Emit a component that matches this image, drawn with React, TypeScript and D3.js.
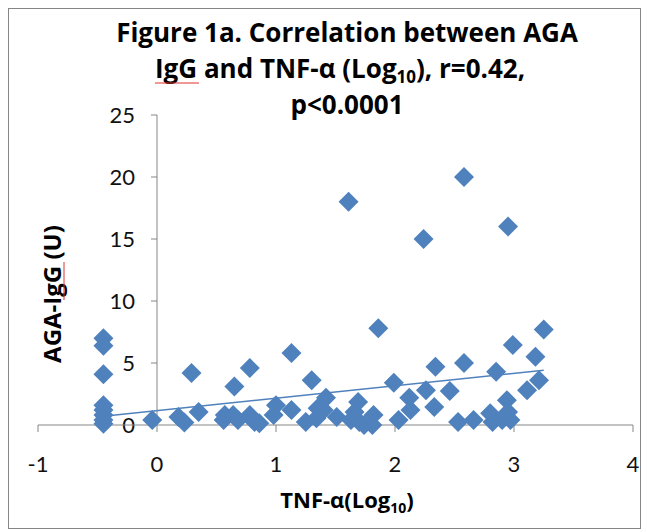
import React from 'react';
import * as d3 from 'd3';

// TNF-alpha (log10) and AGA-IgG (U)
const tnfLog = [
  -0.45, -0.45, -0.45, -0.45, -0.45, -0.45, -0.45, -0.45,
  -0.04, 0.18, 0.23, 0.35, 0.29, 0.65, 0.78, 1.13, 1.3, 0.57, 0.56, 0.64,
  0.68, 0.78, 0.82, 0.86, 0.98, 1.0, 1.13, 1.25, 1.34, 1.35, 1.42, 1.4,
  1.51, 1.69, 1.66, 1.63, 1.7, 1.74, 1.82, 1.81, 1.86, 1.61, 1.99, 2.03,
  2.12, 2.13, 2.26, 2.33, 2.34, 2.24, 2.46, 2.58, 2.58, 2.53, 2.66, 2.85,
  2.8, 2.82, 2.9, 2.94, 2.95, 2.97, 2.95, 2.99, 3.11, 3.18, 3.21, 3.25,
];
const agaIgg = [
  7.0, 6.4, 4.1, 1.6, 1.2, 0.8, 0.4, 0.1,
  0.4, 0.65, 0.2, 1.05, 4.2, 3.1, 4.6, 5.8, 3.6, 0.8, 0.4, 0.8,
  0.4, 0.8, 0.25, 0.15, 0.8, 1.6, 1.2, 0.25, 0.55, 1.35, 2.2, 1.2,
  0.65, 1.85, 1.05, 0.4, 0.25, 0.0, 0.8, 0.0, 7.8, 18.0, 3.4, 0.4,
  2.2, 1.2, 2.8, 1.45, 4.7, 15.0, 2.75, 5.0, 20.0, 0.25, 0.4, 4.3,
  0.95, 0.25, 0.4, 2.0, 1.05, 0.4, 16.0, 6.45, 2.8, 5.5, 3.6, 7.7,
];
const xTicks = [-1, 0, 1, 2, 3, 4];
const yTicks = [0, 5, 10, 15, 20, 25];
// linear trendline y = a + b*x
const trendIntercept = 1.16;
const trendSlope = 1.0;

const W = 647;
const H = 532;
const TITLE_FONT = '"Open Sans", Lato, sans-serif';
const TICK_FONT = 'Lato, "Open Sans", sans-serif';
const BLUE = '#4F81BD';
const AXIS = '#868686';

export default function App() {
  const x = d3.scaleLinear().domain([-1, 4]).range([38, 633]);
  const y = d3.scaleLinear().domain([0, 25]).range([425, 115]);

  const points = tnfLog.map((v, i) => ({ x: v, y: agaIgg[i] }));
  const diamond = d3.symbol(d3.symbolSquare, 200)() as string;

  const xMin = d3.min(tnfLog) as number;
  const xMax = d3.max(tnfLog) as number;
  const trend = d3.line<number>()
    .x(d => x(d))
    .y(d => y(trendIntercept + trendSlope * d));

  const x0 = x(0);

  return (
    <svg width={W} height={H} style={{ position: 'fixed', left: 0, top: 0, background: '#fff' }}>
      <rect x={8.5} y={8.5} width={632} height={520} fill="#fff" stroke={AXIS} strokeWidth={1} />

      {/* title */}
      <g fontFamily={TITLE_FONT} fontWeight={700} fontSize={26} fill="#000">
        <text x={347} y={42} textAnchor="middle">Figure 1a. Correlation between AGA</text>
        <text x={155} y={78}>
          IgG and TNF-α (Log<tspan fontSize={17} dy={5}>10</tspan><tspan dy={-5}>), r=0.42,</tspan>
        </text>
        <text x={347} y={114} textAnchor="middle">p&lt;0.0001</text>
      </g>
      <path d="M155,83 L199,83" stroke="#e03030" strokeWidth={1} />

      {/* y axis */}
      <line x1={x0} x2={x0} y1={y(0)} y2={y(25)} stroke={AXIS} strokeWidth={1} />
      {yTicks.map(t => (
        <g key={t}>
          <line x1={x0 - 6} x2={x0} y1={y(t)} y2={y(t)} stroke={AXIS} />
          <text x={x0 - 22} y={y(t) + 8} textAnchor="end" fontFamily={TICK_FONT} fontSize={22} fill="#111">{t}</text>
        </g>
      ))}

      {/* x axis */}
      <line x1={x(-1)} x2={x(4)} y1={y(0)} y2={y(0)} stroke={AXIS} strokeWidth={1} />
      {xTicks.map(t => (
        <g key={t}>
          <line x1={x(t)} x2={x(t)} y1={y(0)} y2={y(0) + 7} stroke={AXIS} />
          <text x={x(t)} y={y(0) + 47} textAnchor="middle" fontFamily={TICK_FONT} fontSize={22} fill="#111">{t}</text>
        </g>
      ))}

      {/* points */}
      {points.map((p, i) => (
        <path key={i} d={diamond} transform={`translate(${x(p.x)},${y(p.y)}) rotate(45)`} fill={BLUE} />
      ))}

      {/* trendline */}
      <path d={trend([xMin, xMax]) as string} fill="none" stroke={BLUE} strokeWidth={1.5} />

      {/* axis titles */}
      <text x={347} y={508} textAnchor="middle" fontFamily={TITLE_FONT} fontWeight={700} fontSize={22} fill="#000">
        TNF-α(Log<tspan fontSize={14} dy={5}>10</tspan><tspan dy={-5}>)</tspan>
      </text>
      <text transform="translate(61,294) rotate(-90)" textAnchor="middle" fontFamily={TITLE_FONT} fontWeight={700} fontSize={24} fill="#000">
        AGA-IgG (U)
      </text>
      <path d="M64,262 L64,300" stroke="#e03030" strokeWidth={1} />
    </svg>
  );
}
